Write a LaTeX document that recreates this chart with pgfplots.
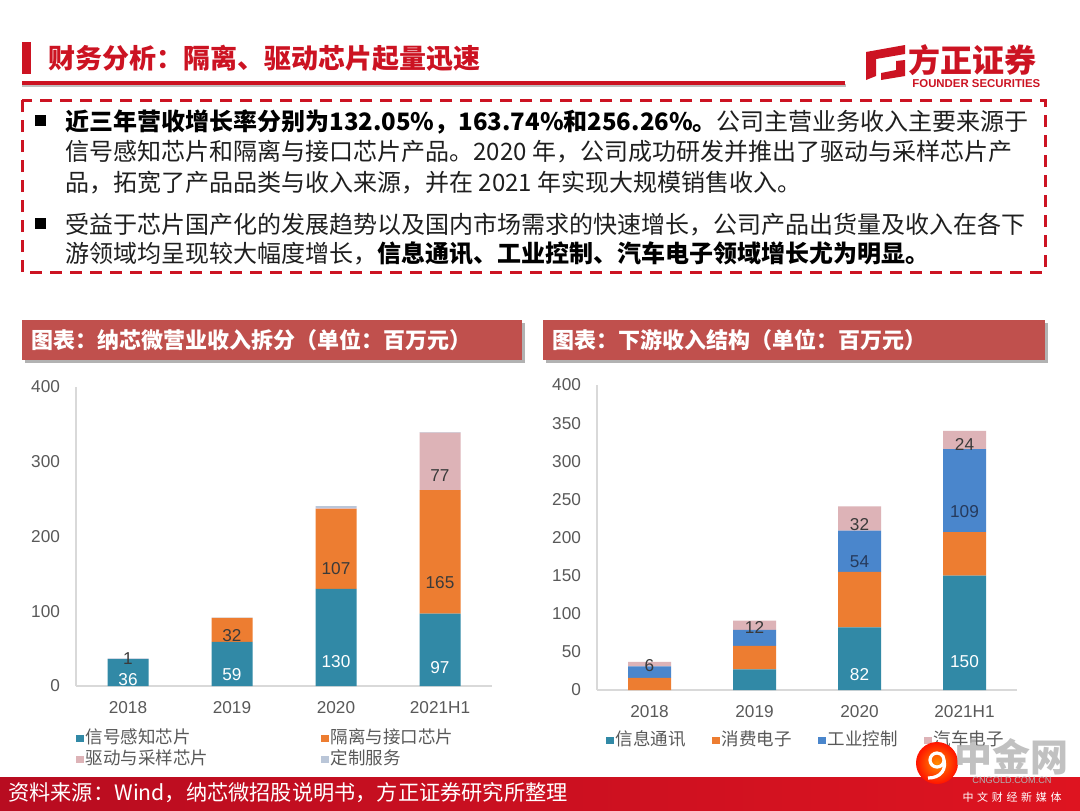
\documentclass[border=0pt]{standalone}
\usepackage{pgfplots}
\pgfplotsset{compat=1.18}
\usepackage{pgfplotstable}
\usepackage{fontspec}
\setmainfont{Liberation Sans}
\newfontfamily\cjk{Noto Sans CJK SC}
\definecolor{cteal}{HTML}{3189A6}
\definecolor{corange}{HTML}{ED7D31}
\definecolor{cblue}{HTML}{4A86CC}
\definecolor{cpink}{HTML}{DDB3B7}
\definecolor{cgray}{HTML}{BAC6D8}
\definecolor{hdr}{HTML}{C0504D}
\definecolor{tred}{HTML}{CC1322}
\definecolor{txt}{HTML}{595959}
\definecolor{dlab}{HTML}{3A3A3A}
\definecolor{dnavy}{HTML}{263A5C}
\definecolor{footL}{HTML}{B80C20}
\definecolor{footR}{HTML}{DE1420}

\pgfplotstableread[col sep=comma]{
x,a,b,c,d,la,lb,lc,ld
0,36,0,0,1,36,{},{},1
1,59,32,0,0.6,59,32,{},{}
2,130,107,0.8,3,130,107,{},{}
3,97,165,77,0.5,97,165,77,{}
}\lefttab

\pgfplotstableread[col sep=comma]{
x,a,b,c,d,la,lb,lc,ld
0,0,16,15,6,{},{},{},6
1,27,31,21,12,{},{},{},12
2,82,73,54,32,82,{},54,32
3,150,57,109,24,150,{},109,24
}\righttab

\begin{document}
\begin{tikzpicture}
\path[use as bounding box] (0,0) rectangle (540pt,-405pt);
\begin{scope}[x=0.5pt,y=-0.5pt]
\fill[white] (0,0) rectangle (1080,810);
% title
\fill[tred] (22,42) rectangle (31,74);
\node[anchor=west, text=tred, font=\cjk\bfseries\fontsize{13.5}{15}\selectfont, inner sep=0pt] at (48,58) {财务分析：隔离、驱动芯片起量迅速};
\fill[black!25] (22,84) rectangle (846,87);
\fill[tred] (22,81) rectangle (845,85);
% logo
\fill[tred] (866,52) -- (905,45) -- (905,54) -- (876,59) -- (876,76) -- (866,80) -- cycle;
\fill[tred] (881,80) -- (905,76) -- (905,60) -- (896,61) -- (896,70) -- (881,73) -- cycle;
\node[anchor=west, text=tred, font=\cjk\bfseries\fontsize{16}{18}\selectfont, inner sep=0pt] at (908,60) {方正证券};
\node[anchor=west, text=tred, font=\bfseries\fontsize{5.7}{6}\selectfont, inner sep=0pt] at (912,84) {FOUNDER SECURITIES};
% dashed box
\draw[tred, line width=1.5pt, dash pattern=on 6pt off 4pt] (22,100) rectangle (1045,272);
\fill[black] (35,115) rectangle (46,126);
\fill[black] (35,218) rectangle (46,229);
\begin{scope}[every node/.style={anchor=base west, inner sep=0pt, text=black!88, font=\cjk\fontsize{12}{15}\selectfont}]
\node at (65,130) {\textbf{\color{black}近三年营收增长率分别为132.05\%，163.74\%和256.26\%。}公司主营业务收入主要来源于};
\node at (65,160) {信号感知芯片和隔离与接口芯片产品。2020 年，公司成功研发并推出了驱动与采样芯片产};
\node at (65,191) {品，拓宽了产品品类与收入来源，并在 2021 年实现大规模销售收入。};
\node at (65,233) {受益于芯片国产化的发展趋势以及国内市场需求的快速增长，公司产品出货量及收入在各下};
\node at (65,262) {游领域均呈现较大幅度增长，\textbf{\color{black}信息通讯、工业控制、汽车电子领域增长尤为明显。}};
\end{scope}
% panel headers
\fill[black!30] (25,323) rectangle (525,363);
\fill[hdr] (22,320) rectangle (522,360);
\node[anchor=west, text=white, font=\cjk\bfseries\fontsize{11}{13}\selectfont, inner sep=0pt] at (31,340) {图表：纳芯微营业收入拆分（单位：百万元）};
\fill[black!30] (546,323) rectangle (1048,363);
\fill[hdr] (543,320) rectangle (1045,360);
\node[anchor=west, text=white, font=\cjk\bfseries\fontsize{11}{13}\selectfont, inner sep=0pt] at (552,340) {图表：下游收入结构（单位：百万元）};
% footer
\shade[left color=footL, right color=footR] (0,777) rectangle (1080,810);
\node[anchor=west, text=white, font=\cjk\fontsize{10.6}{12}\selectfont, inner sep=0pt] at (8,793) {资料来源：Wind，纳芯微招股说明书，方正证券研究所整理};
\coordinate (L0) at (76,686);
\coordinate (R0) at (597,690);
\end{scope}

\begin{axis}[at={(L0)}, anchor=south west, scale only axis,
  width=208pt, height=149.5pt,
  ybar stacked, bar width=20.5pt,
  xmin=-0.5, xmax=3.5, ymin=0, ymax=400,
  xtick={0,1,2,3}, xticklabels={2018,2019,2020,2021H1},
  ytick={0,100,200,300,400},
  axis x line*=bottom, axis y line*=left,
  axis line style={draw=black!15, line width=0.7pt},
  major tick length=0pt,
  tick label style={font=\fontsize{8.6}{10}\selectfont, text=txt},
  yticklabel style={xshift=-4.5pt},
  xticklabel style={yshift=-4pt},
  /pgf/number format/assume math mode=true,
  clip=false,
  legend columns=2, legend cell align=left,
  legend style={at={(axis description cs:0,0)}, anchor=north west, xshift=0pt, yshift=-20.75pt,
    draw=none, fill=none, inner sep=0pt, font=\cjk\fontsize{8.75}{10}\selectfont, text=txt,
    nodes={inner sep=1pt, text height=7pt, text depth=1.5pt},
    /tikz/every even column/.append style={column sep=55.5pt}},
  legend image code/.code={\fill[#1] (0pt,-1.9pt) rectangle (3.75pt,1.9pt);},
  point meta=explicit symbolic,
  visualization depends on={rawy \as \yv},
  every node near coord/.append style={anchor=center, yshift=-\yv*0.0934375pt, font=\fontsize{8.6}{10}\selectfont},
]
\addplot[fill=cteal, draw=none, nodes near coords={\textcolor{white}{\pgfplotspointmeta}}] table[x=x,y=a,meta=la]{\lefttab};
\addlegendentry{信号感知芯片}
\addplot[fill=corange, draw=none, nodes near coords={\textcolor{dlab}{\pgfplotspointmeta}}] table[x=x,y=b,meta=lb]{\lefttab};
\addlegendentry{隔离与接口芯片}
\addplot[fill=cpink, draw=none, nodes near coords={\textcolor{dlab}{\pgfplotspointmeta}}] table[x=x,y=c,meta=lc]{\lefttab};
\addlegendentry{驱动与采样芯片}
\addplot[fill=cgray, draw=none, nodes near coords={\textcolor{dlab}{\pgfplotspointmeta}}] table[x=x,y=d,meta=ld]{\lefttab};
\addlegendentry{定制服务}
\end{axis}

\begin{axis}[at={(R0)}, anchor=south west, scale only axis,
  width=210pt, height=152.5pt,
  ybar stacked, bar width=21.5pt,
  xmin=-0.5, xmax=3.5, ymin=0, ymax=400,
  xtick={0,1,2,3}, xticklabels={2018,2019,2020,2021H1},
  ytick={0,50,100,150,200,250,300,350,400},
  axis x line*=bottom, axis y line*=left,
  axis line style={draw=black!15, line width=0.7pt},
  major tick length=0pt,
  tick label style={font=\fontsize{8.6}{10}\selectfont, text=txt},
  yticklabel style={xshift=-4.5pt},
  xticklabel style={yshift=-4pt},
  /pgf/number format/assume math mode=true,
  clip=false,
  legend columns=4, legend cell align=left,
  legend style={at={(axis description cs:0,0)}, anchor=north west, xshift=4.5pt, yshift=-19.75pt,
    draw=none, fill=none, inner sep=0pt, font=\cjk\fontsize{8.75}{10}\selectfont, text=txt,
    nodes={inner sep=1pt, text height=7pt, text depth=1.5pt},
    /tikz/every even column/.append style={column sep=12.25pt}},
  legend image code/.code={\fill[#1] (0pt,-1.9pt) rectangle (3.75pt,1.9pt);},
  point meta=explicit symbolic,
  visualization depends on={rawy \as \yv},
  every node near coord/.append style={anchor=center, yshift=-\yv*0.0953125pt, font=\fontsize{8.6}{10}\selectfont},
]
\addplot[fill=cteal, draw=none, nodes near coords={\textcolor{white}{\pgfplotspointmeta}}] table[x=x,y=a,meta=la]{\righttab};
\addlegendentry{信息通讯}
\addplot[fill=corange, draw=none, nodes near coords={\textcolor{dlab}{\pgfplotspointmeta}}] table[x=x,y=b,meta=lb]{\righttab};
\addlegendentry{消费电子}
\addplot[fill=cblue, draw=none, nodes near coords={\textcolor{dnavy}{\pgfplotspointmeta}}] table[x=x,y=c,meta=lc]{\righttab};
\addlegendentry{工业控制}
\addplot[fill=cpink, draw=none, nodes near coords={\textcolor{dlab}{\pgfplotspointmeta}}] table[x=x,y=d,meta=ld]{\righttab};
\addlegendentry{汽车电子}
\end{axis}

\begin{scope}[x=0.5pt,y=-0.5pt]
% watermark
\shade[inner color=orange!90!yellow, outer color=red!85!orange] (937,763) circle (21);
\draw[white, line width=1.6pt] (944,760) arc (0:330:7) .. controls (948,770) and (940,778) .. (928,778);
\node[text=black!30, opacity=0.8, font=\cjk\bfseries\fontsize{19}{20}\selectfont, inner sep=0pt] at (1011,757) {中金网};
\node[text=black!30, font=\fontsize{4.6}{5}\selectfont, inner sep=0pt] at (1012,780) {CNGOLD.COM.CN};
\node[text=white, font=\cjk\fontsize{5.5}{6}\selectfont, inner sep=0pt] at (1012,797) {中\,\,文\,\,财\,\,经\,\,新\,\,媒\,\,体};
\end{scope}
\end{tikzpicture}
\end{document}
